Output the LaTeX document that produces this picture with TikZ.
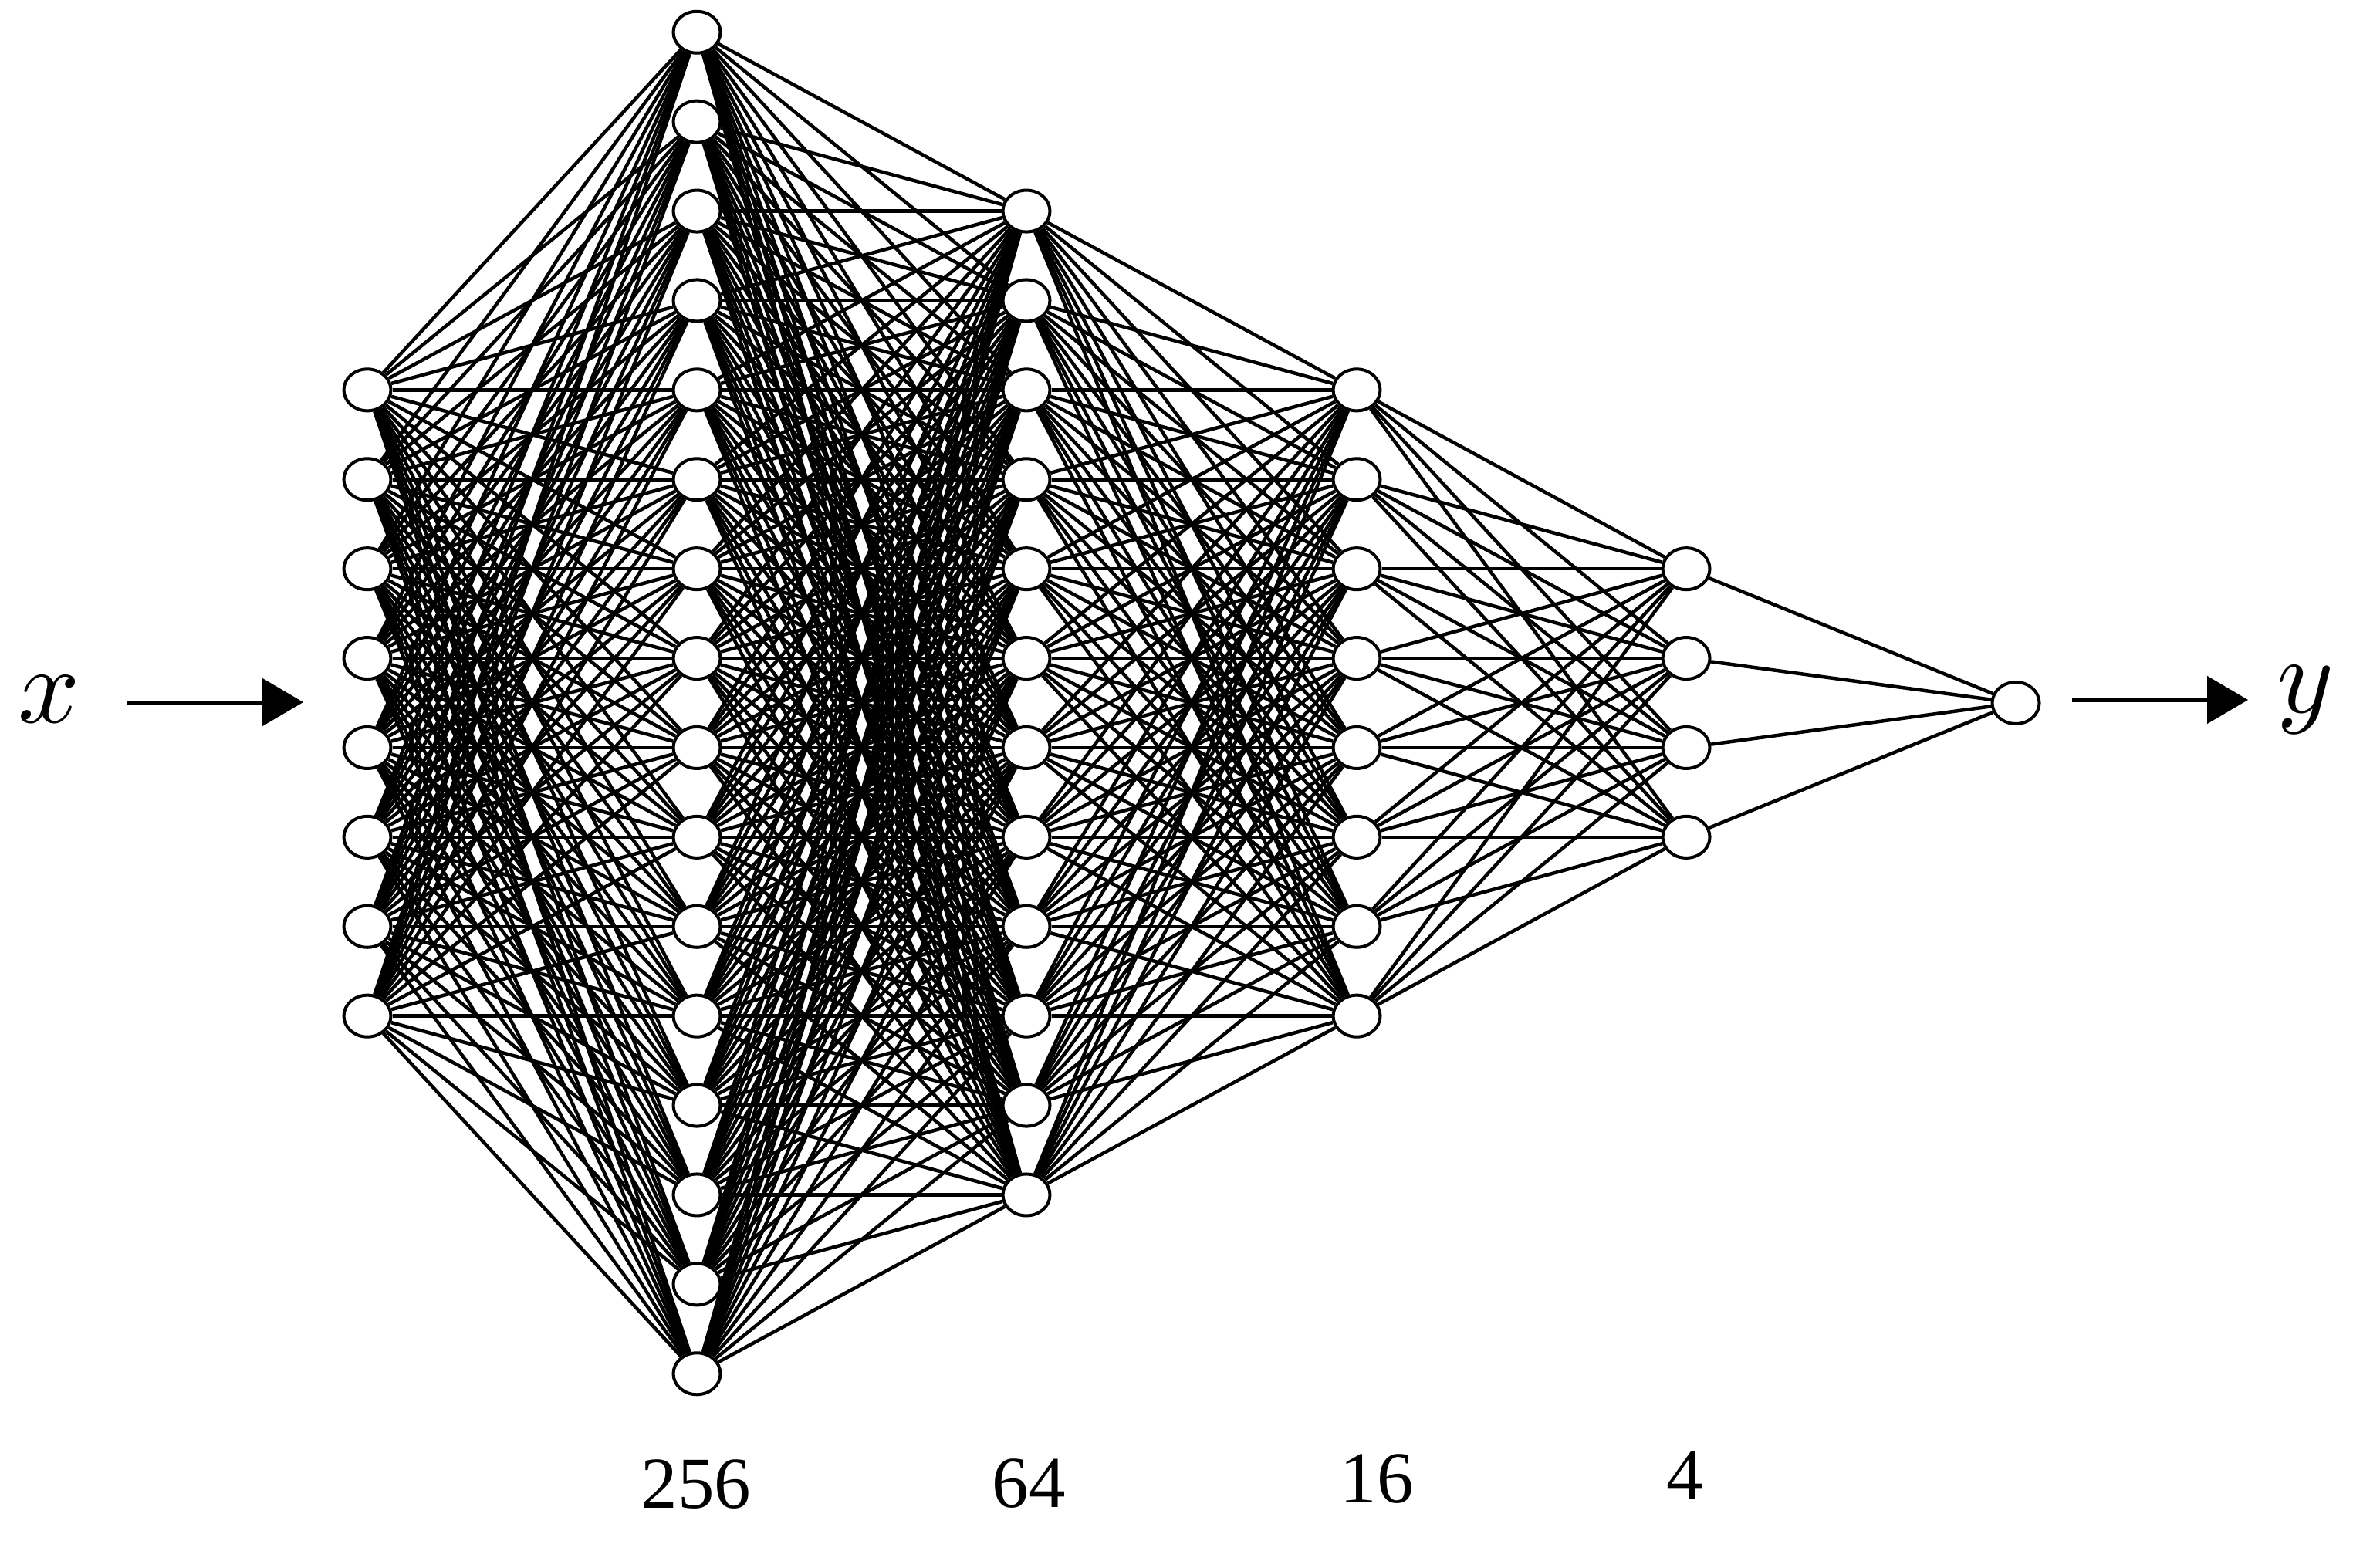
\documentclass[tikz,border=0pt]{standalone}
\usepackage{fontspec}
\newfontfamily\numfont{Liberation Serif}
\usetikzlibrary{shapes.geometric,arrows.meta,backgrounds}

\tikzset{
  neuron/.style={ellipse, draw, fill=white, line width=0.04cm, inner sep=0pt,
    minimum width=0.61cm, minimum height=0.54cm},
  link/.style={line width=0.045cm},
  flow/.style={line width=0.05cm, -{Triangle[length=0.53cm,width=0.61cm]}},
  size/.style={font=\numfont\fontsize{27}{30}\selectfont}
}
\newcommand{\bigvar}[1]{\scalebox{4}{$#1$}}

\begin{document}
\begin{tikzpicture}
  \useasboundingbox (0,0) rectangle (30.84,-20.09);
  \def\gap{1.159}
  % layers
  \foreach \i in {1,...,8}
    \node[neuron] (I\i) at (4.76,{-9.11+(4.5-\i)*\gap}) {};
  \foreach \i in {1,...,16}
    \node[neuron] (A\i) at (9.03,{-9.11+(8.5-\i)*\gap}) {};
  \foreach \i in {1,...,12}
    \node[neuron] (B\i) at (13.30,{-9.11+(6.5-\i)*\gap}) {};
  \foreach \i in {1,...,8}
    \node[neuron] (C\i) at (17.58,{-9.11+(4.5-\i)*\gap}) {};
  \foreach \i in {1,...,4}
    \node[neuron] (D\i) at (21.85,{-9.11+(2.5-\i)*\gap}) {};
  \node[neuron] (O) at (26.12,-9.11) {};

  % weights
  \begin{scope}[on background layer]
    \foreach \i in {1,...,8}
      \foreach \j in {1,...,16}
        \draw[link] (I\i) -- (A\j);
    \foreach \i in {1,...,16}
      \foreach \j in {1,...,12}
        \draw[link] (A\i) -- (B\j);
    \foreach \i in {1,...,12}
      \foreach \j in {1,...,8}
        \draw[link] (B\i) -- (C\j);
    \foreach \i in {1,...,8}
      \foreach \j in {1,...,4}
        \draw[link] (C\i) -- (D\j);
    \foreach \i in {1,...,4}
      \draw[link] (D\i) -- (O);
  \end{scope}

  % input and output
  \node (x) at (0.64,-9.06) {\bigvar{x}};
  \node[anchor=base] (y) at (29.87,-9.23) {\bigvar{y}};
  \coordinate (xs) at (1.65,-9.10);
  \coordinate (xe) at (3.93,-9.10);
  \coordinate (ys) at (26.85,-9.07);
  \coordinate (ye) at (29.13,-9.07);
  \draw[flow] (xs) -- (xe);
  \draw[flow] (ys) -- (ye);

  % sizes
  \node[size] (n256) at (9.02,-19.24) {256};
  \node[size] (n64) at (13.33,-19.23) {64};
  \node[size] (n16) at (17.84,-19.17) {16};
  \node[size] (n4) at (21.83,-19.12) {4};
\end{tikzpicture}
\end{document}
